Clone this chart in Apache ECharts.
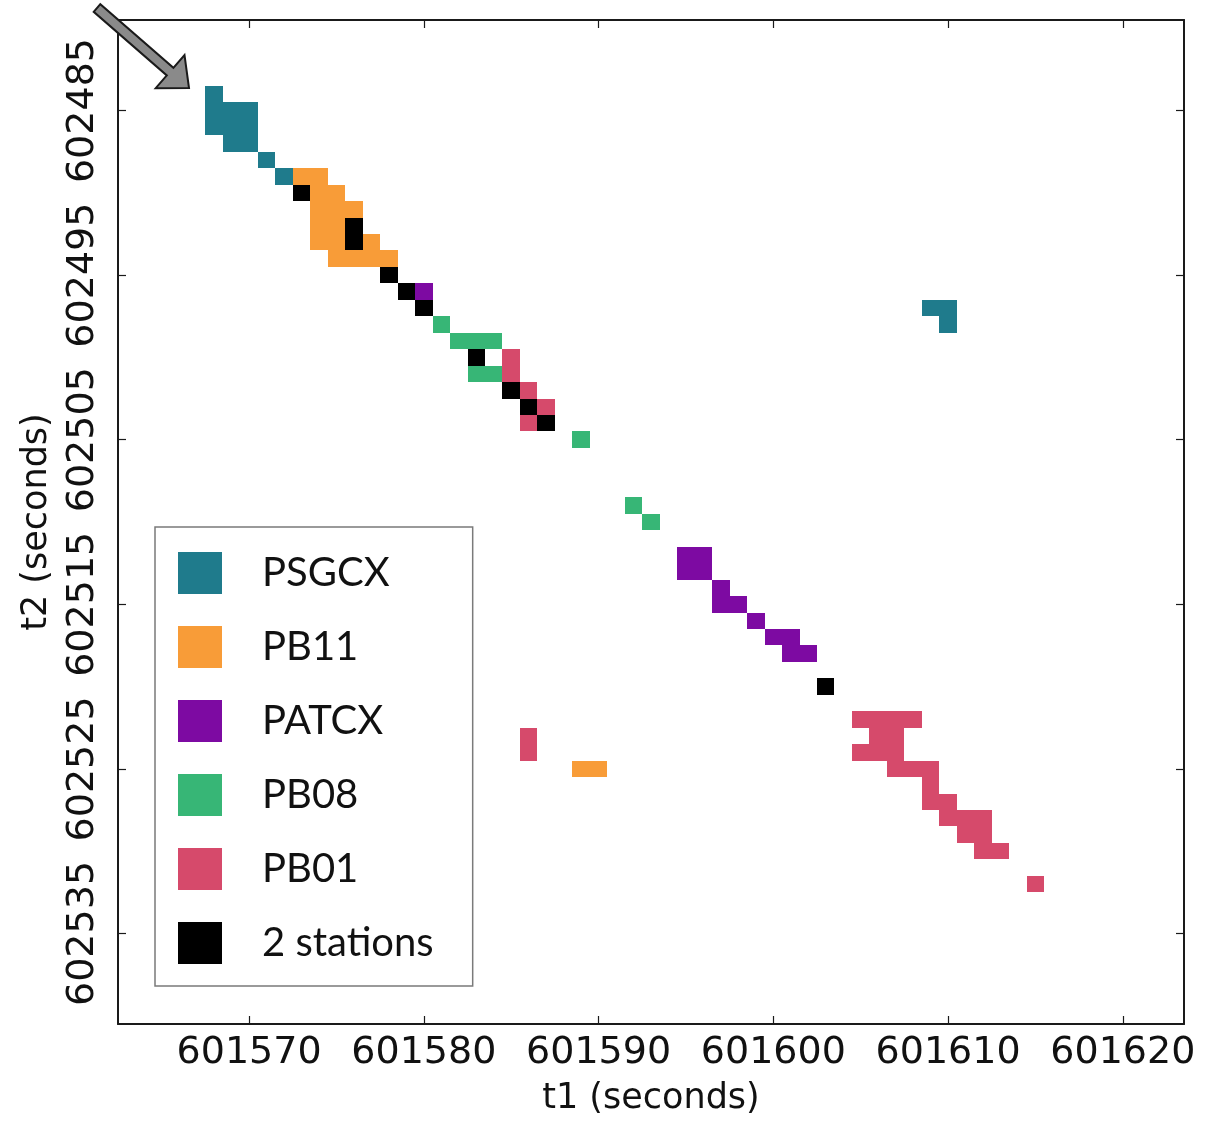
<!DOCTYPE html>
<html>
<head>
<meta charset="utf-8">
<title>t1 vs t2</title>
<script src="https://cdn.jsdelivr.net/npm/echarts@6/dist/echarts.min.js"></script>
<style>
  html, body { margin: 0; padding: 0; background: #fff; }
  #chart { width: 1208px; height: 1121px; }
</style>
</head>
<body>
<div id="chart"></div>
<script>
// tick positions on both axes
const xTicks = [601570, 601580, 601590, 601600, 601610, 601620]
const yTicks = [602485, 602495, 602505, 602515, 602525, 602535]

// detections, [t1, t2] in seconds, one array per station
const psgcx = [
  [601568, 602484], [601568, 602485], [601568, 602486],
  [601569, 602485], [601569, 602486], [601569, 602487],
  [601570, 602485], [601570, 602486], [601570, 602487],
  [601571, 602488], [601572, 602489],
  [601609, 602497], [601610, 602497], [601610, 602498]
]
const pb11 = [
  [601573, 602489], [601574, 602489],
  [601574, 602490], [601575, 602490],
  [601574, 602491], [601575, 602491], [601576, 602491],
  [601574, 602492], [601575, 602492],
  [601574, 602493], [601575, 602493], [601577, 602493],
  [601575, 602494], [601576, 602494], [601577, 602494], [601578, 602494],
  [601589, 602525], [601590, 602525]
]
const patcx = [
  [601580, 602496],
  [601595, 602512], [601596, 602512], [601595, 602513], [601596, 602513],
  [601597, 602514], [601597, 602515], [601598, 602515],
  [601599, 602516],
  [601600, 602517], [601601, 602517],
  [601601, 602518], [601602, 602518]
]
const pb08 = [
  [601581, 602498],
  [601582, 602499], [601583, 602499], [601584, 602499],
  [601583, 602501], [601584, 602501],
  [601589, 602505],
  [601592, 602509], [601593, 602510]
]
const pb01 = [
  [601585, 602500], [601585, 602501], [601586, 602502], [601587, 602503], [601586, 602504],
  [601586, 602523], [601586, 602524],
  [601605, 602522], [601606, 602522], [601607, 602522], [601608, 602522],
  [601606, 602523], [601607, 602523],
  [601605, 602524], [601606, 602524], [601607, 602524],
  [601607, 602525], [601608, 602525], [601609, 602525],
  [601609, 602526],
  [601609, 602527], [601610, 602527],
  [601610, 602528], [601611, 602528], [601612, 602528],
  [601611, 602529], [601612, 602529],
  [601612, 602530], [601613, 602530],
  [601615, 602532]
]
const twoStations = [
  [601573, 602490], [601576, 602492], [601576, 602493], [601578, 602495],
  [601579, 602496], [601580, 602497], [601583, 602500], [601585, 602502],
  [601586, 602503], [601587, 602504], [601603, 602520]
]

const stations = [
  { name: 'PSGCX', data: psgcx, color: '#1f7b8c' },
  { name: 'PB11', data: pb11, color: '#f89c38' },
  { name: 'PATCX', data: patcx, color: '#7d0aa2' },
  { name: 'PB08', data: pb08, color: '#37b676' },
  { name: 'PB01', data: pb01, color: '#d64a6b' },
  { name: '2 stations', data: twoStations, color: '#000000' }
]

// one second square per detection
function renderCell(params, api) {
  const c = api.coord([api.value(0), api.value(1)])
  const s = api.size([1, 1])
  const x0 = Math.round(c[0] - s[0] / 2)
  const x1 = Math.round(c[0] + s[0] / 2)
  const y0 = Math.round(c[1] - s[1] / 2)
  const y1 = Math.round(c[1] + s[1] / 2)
  return {
    type: 'rect',
    shape: { x: x0, y: y0, width: x1 - x0, height: y1 - y0 },
    style: { fill: api.visual('color') }
  }
}

const axisFont = 'DejaVu Sans'
const plain = v => String(v)  // no thousands separator
const frame = { show: true, lineStyle: { color: '#1a1a1a', width: 2 } }
const innerTick = { show: true, inside: true, length: 8, lineStyle: { color: '#1a1a1a', width: 1.2 } }

const chart = echarts.init(document.getElementById('chart'), null, { renderer: 'canvas' })

chart.setOption({
  backgroundColor: '#fff',
  animation: false,
  grid: { left: 118, right: 24, top: 20, bottom: 92 },
  legend: {
    orient: 'vertical',
    left: 155,
    top: 527,
    padding: [25, 39, 22, 23],
    itemWidth: 44,
    itemHeight: 42,
    itemGap: 32,
    icon: 'rect',
    selectedMode: false,
    backgroundColor: '#fff',
    borderColor: '#7a7a7a',
    borderWidth: 1.5,
    textStyle: {
      fontFamily: 'Lato',
      fontSize: 40,
      color: '#111',
      padding: [0, 0, 0, 35]
    },
    data: stations.map(s => s.name)
  },
  xAxis: [
    {
      type: 'value',
      min: 601562.5,
      max: 601623.5,
      position: 'bottom',
      axisLine: frame,
      axisTick: Object.assign({ customValues: xTicks }, innerTick),
      axisLabel: {
        customValues: xTicks,
        formatter: plain,
        fontFamily: axisFont,
        fontSize: 38,
        color: '#111',
        margin: 10
      },
      splitLine: { show: false },
      name: 't1 (seconds)',
      nameLocation: 'middle',
      nameGap: 57,
      nameTextStyle: { fontFamily: axisFont, fontSize: 35, color: '#111' }
    },
    {
      type: 'value',
      min: 601562.5,
      max: 601623.5,
      position: 'top',
      axisLine: frame,
      axisTick: Object.assign({ customValues: xTicks }, innerTick),
      axisLabel: { show: false },
      splitLine: { show: false }
    }
  ],
  yAxis: [
    {
      type: 'value',
      inverse: true,
      min: 602479.5,
      max: 602540.5,
      position: 'left',
      axisLine: frame,
      axisTick: Object.assign({ customValues: yTicks }, innerTick),
      axisLabel: {
        customValues: yTicks,
        formatter: plain,
        rotate: 90,
        fontFamily: axisFont,
        fontSize: 38,
        color: '#111',
        margin: 16
      },
      splitLine: { show: false },
      name: 't2 (seconds)',
      nameLocation: 'middle',
      nameRotate: 90,
      nameGap: 64,
      nameTextStyle: { fontFamily: axisFont, fontSize: 35, color: '#111' }
    },
    {
      type: 'value',
      inverse: true,
      min: 602479.5,
      max: 602540.5,
      position: 'right',
      axisLine: frame,
      axisTick: Object.assign({ customValues: yTicks }, innerTick),
      axisLabel: { show: false },
      splitLine: { show: false }
    }
  ],
  series: stations.map(s => ({
    name: s.name,
    type: 'custom',
    xAxisIndex: 0,
    yAxisIndex: 0,
    renderItem: renderCell,
    encode: { x: 0, y: 1 },
    itemStyle: { color: s.color },
    data: s.data
  })),
  graphic: [
    {
      // pointer arrow in the upper left corner
      type: 'polygon',
      z: 100,
      shape: {
        points: [
          [93.7, 11.8], [100.3, 4.2], [173.4, 67.8], [184.5, 55.0],
          [189, 88], [155.7, 88.2], [166.8, 75.4]
        ]
      },
      style: { fill: '#8a8a8a', stroke: '#1a1a1a', lineWidth: 2 }
    }
  ]
})

window.addEventListener('resize', () => {
  chart.resize()
})
</script>
</body>
</html>
